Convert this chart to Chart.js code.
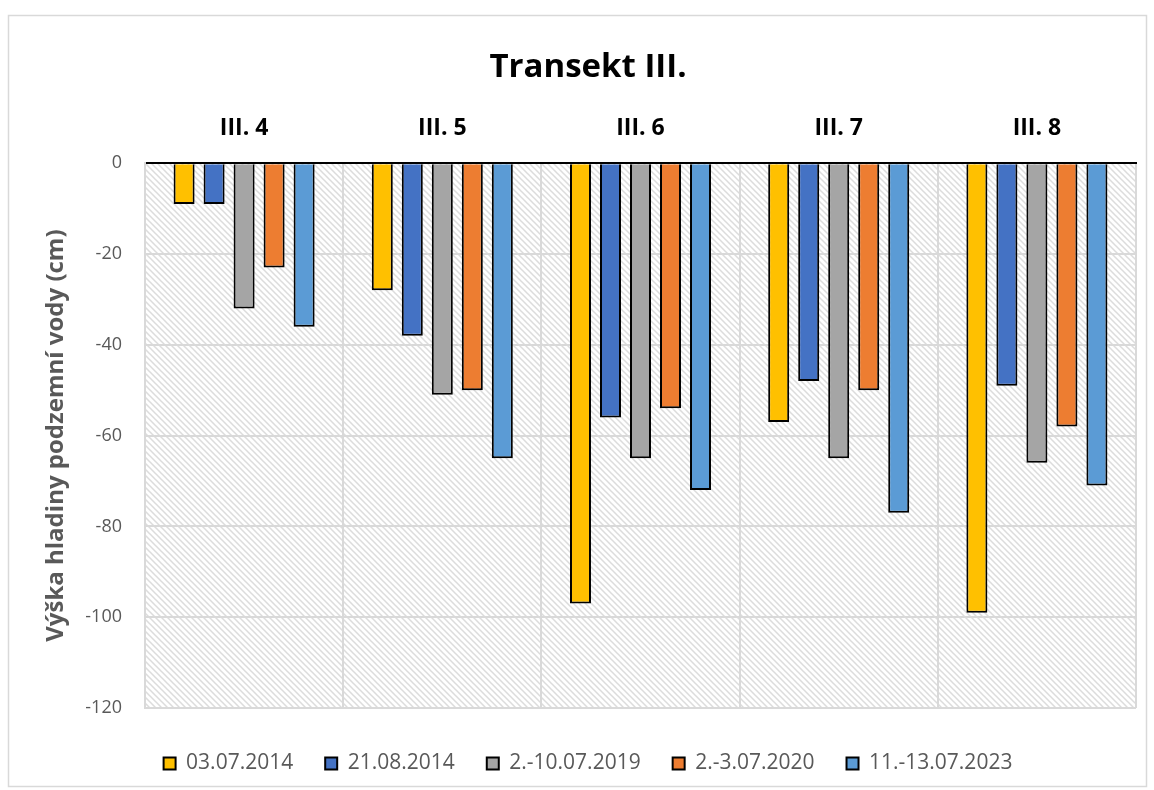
<!DOCTYPE html>
<html>
<head>
<meta charset="utf-8">
<script src="https://cdn.jsdelivr.net/npm/chart.js@4.4.1/dist/chart.umd.min.js"></script>
<style>
  html, body { margin: 0; padding: 0; background: #ffffff; }
  #wrap { width: 1154px; height: 790px; position: relative; }
</style>
</head>
<body>
<div id="wrap"><canvas id="c" width="1154" height="790"></canvas></div>
<script>
const chartTitle = 'Transekt III.';
const yAxisTitle = 'Výška hladiny podzemní vody (cm)';
const categories = ['III. 4', 'III. 5', 'III. 6', 'III. 7', 'III. 8'];
const seriesNames = ['03.07.2014', '21.08.2014', '2.-10.07.2019', '2.-3.07.2020', '11.-13.07.2023'];
const values_03_07_2014 = [-9, -28, -97, -57, -99];
const values_21_08_2014 = [-9, -38, -56, -48, -49];
const values_2019 = [-32, -51, -65, -65, -66];
const values_2020 = [-23, -50, -54, -50, -58];
const values_2023 = [-36, -65, -72, -77, -71];
const yMin = -120;
const yMax = 0;
const yStep = 20;

const seriesValues = [values_03_07_2014, values_21_08_2014, values_2019, values_2020, values_2023];
const seriesColors = ['#FFC000', '#4472C4', '#A5A5A5', '#ED7D31', '#5B9BD5'];

const FONT = '"Open Sans", "DejaVu Sans", sans-serif';

function makeHatch() {
  const t = document.createElement('canvas');
  t.width = 6; t.height = 6;
  const g = t.getContext('2d');
  g.fillStyle = '#ffffff';
  g.fillRect(0, 0, 6, 6);
  g.strokeStyle = '#dcdcdc';
  g.lineWidth = 1.5;
  g.beginPath();
  g.moveTo(-1, -1); g.lineTo(7, 7);
  g.moveTo(-4, 2); g.lineTo(4, 10);
  g.moveTo(2, -4); g.lineTo(10, 4);
  g.stroke();
  return t;
}

const backgroundPlugin = {
  id: 'bgHatch',
  beforeDraw(chart) {
    const ctx = chart.ctx;
    const a = chart.chartArea;
    ctx.save();
    ctx.fillStyle = '#ffffff';
    ctx.fillRect(0, 0, chart.width, chart.height);
    ctx.strokeStyle = '#d9d9d9';
    ctx.lineWidth = 1.5;
    ctx.strokeRect(8.5, 15.5, 1138, 771);
    ctx.fillStyle = ctx.createPattern(makeHatch(), 'repeat');
    ctx.fillRect(a.left, a.top, a.right - a.left, a.bottom - a.top);
    ctx.restore();
  }
};

const datasets = seriesNames.map((name, i) => ({
  label: name,
  data: seriesValues[i],
  backgroundColor: seriesColors[i],
  borderColor: '#000000',
  borderWidth: 2,
  borderSkipped: 'start',
  barPercentage: 0.7,
  categoryPercentage: 0.757
}));

new Chart(document.getElementById('c'), {
  type: 'bar',
  data: { labels: categories, datasets: datasets },
  plugins: [backgroundPlugin],
  options: {
    responsive: false,
    animation: false,
    devicePixelRatio: 1,
    layout: { padding: { top: 0, left: 40, right: 18, bottom: 6 } },
    plugins: {
      title: {
        display: true,
        text: chartTitle,
        color: '#000000',
        font: { family: FONT, size: 33, weight: 'bold' },
        padding: { top: 48, bottom: 6 }
      },
      legend: {
        display: true,
        position: 'bottom',
        labels: {
          color: '#595959',
          font: { family: FONT, size: 21 },
          boxWidth: 12,
          boxHeight: 12,
          padding: 32
        }
      },
      tooltip: { enabled: false }
    },
    scales: {
      x: {
        type: 'category',
        position: 'top',
        grid: { display: true, offset: true, color: '#d9d9d9', lineWidth: 2, drawTicks: false },
        border: { display: true, color: '#000000', width: 2 },
        ticks: { color: '#000000', font: { family: FONT, size: 23, weight: 'bold' }, padding: 21, maxRotation: 0 }
      },
      xpad: {
        type: 'category',
        position: 'bottom',
        labels: categories,
        grid: { display: false },
        border: { display: false },
        ticks: { display: false },
        afterFit(s) { s.height = 13; }
      },
      y: {
        type: 'linear',
        min: yMin,
        max: yMax,
        grid: {
          color: (c) => (c.tick && c.tick.value === 0) ? '#000000' : '#d9d9d9',
          lineWidth: 2,
          drawTicks: false
        },
        border: { display: true, color: '#d9d9d9', width: 2 },
        ticks: { stepSize: yStep, color: '#595959', font: { family: FONT, size: 18 }, padding: 23 },
        title: {
          display: true,
          text: yAxisTitle,
          color: '#595959',
          font: { family: FONT, size: 24, weight: 'bold' },
          padding: { top: 2, bottom: 0 }
        },
        afterFit(s) { s.width = 105; }
      }
    }
  }
});
</script>
</body>
</html>
